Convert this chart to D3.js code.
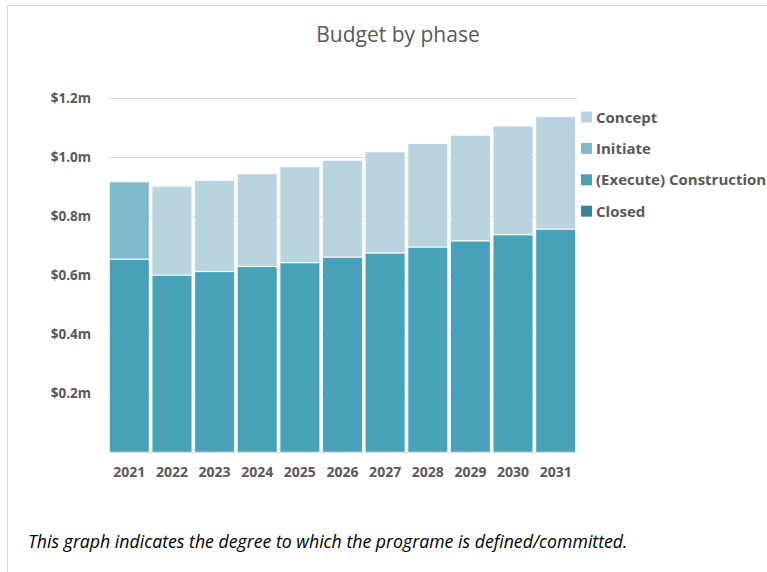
<!DOCTYPE html>
<html>
<head>
<meta charset="utf-8">
<script src="https://cdn.jsdelivr.net/npm/d3@7/dist/d3.min.js"></script>
<style>
  html, body { margin: 0; padding: 0; background: #fff; }
  svg { display: block; }
  text { font-family: "Open Sans", Lato, sans-serif; }
</style>
</head>
<body>
<svg id="chart" width="767" height="572"></svg>
<script>
const years = ["2021","2022","2023","2024","2025","2026","2027","2028","2029","2030","2031"];
const closed       = [0,0,0,0,0,0,0,0,0,0,0];
const construction = [0.655,0.601,0.613,0.630,0.643,0.662,0.676,0.696,0.717,0.738,0.757];
const initiate     = [0.262,0,0,0,0,0,0,0,0,0,0];
const concept      = [0,0.301,0.309,0.314,0.325,0.328,0.343,0.351,0.358,0.368,0.381];
const yTicks = [0.2,0.4,0.6,0.8,1.0,1.2];
const seriesNames = ["Concept","Initiate","(Execute) Construction","Closed"];
const seriesColors = {"Concept":"#b7d4df","Initiate":"#7fb9cd","(Execute) Construction":"#47a1b9","Closed":"#3a8597"};

const rows = years.map((y,i) => ({year:y, "Closed":closed[i], "(Execute) Construction":construction[i], "Initiate":initiate[i], "Concept":concept[i]}));
const stackKeys = ["Closed","(Execute) Construction","Initiate","Concept"];
const stacked = d3.stack().keys(stackKeys)(rows);

const svg = d3.select("#chart");
const FONT = "'Open Sans', Lato, sans-serif";
// frame
svg.append("path").attr("d","M7.5,572 L7.5,5.5 L767,5.5").attr("fill","none").attr("stroke","#d9d9d9").attr("stroke-width",1);

const x = d3.scaleBand().domain(years).range([108,577]).paddingInner(0.06).paddingOuter(0.03);
const y = d3.scaleLinear().domain([0,1.2]).range([452.3,98.3]);

// gridlines
svg.append("g").selectAll("line").data(yTicks).join("line")
  .attr("x1",108).attr("x2",577)
  .attr("y1",d=>Math.round(y(d))+0.5).attr("y2",d=>Math.round(y(d))+0.5)
  .attr("stroke","#d9d9d9").attr("stroke-width",1);

// bars
svg.append("g").selectAll("g").data(stacked).join("g")
  .attr("fill",d=>seriesColors[d.key])
  .selectAll("rect").data(d=>d).join("rect")
  .attr("x",d=>x(d.data.year))
  .attr("width",x.bandwidth())
  .attr("y",d=>y(d[1]))
  .attr("height",d=>Math.max(0,y(d[0])-y(d[1])))
  .attr("stroke",d=> (d[1]-d[0])>0 ? "#ffffff" : "none")
  .attr("stroke-width",1.2)
  .attr("stroke-opacity",0.8);

// baseline
svg.append("line").attr("x1",108).attr("x2",577).attr("y1",452.5).attr("y2",452.5).attr("stroke","#d9d9d9");

// y axis labels
const yAxis = d3.axisLeft(y).tickValues(yTicks).tickSize(0).tickPadding(0)
  .tickFormat(d=>"$"+d3.format(".1f")(d)+"m");
const ya = svg.append("g").attr("transform","translate(91,0)").call(yAxis);
ya.select(".domain").remove();
ya.selectAll("text").attr("font-family",FONT).attr("font-size",13.5).attr("font-weight","bold").attr("fill","#595959");

// x axis labels
const xAxis = d3.axisBottom(x).tickSize(0).tickPadding(0);
const xa = svg.append("g").attr("transform","translate(0,467)").call(xAxis);
xa.select(".domain").remove();
xa.selectAll("text").attr("font-family",FONT).attr("font-size",14).attr("font-weight","bold").attr("fill","#595959");

// title
svg.append("text").attr("x",398).attr("y",42).attr("text-anchor","middle")
  .attr("font-size",21).attr("fill","#595959").text("Budget by phase");

// legend
const lg = svg.append("g").selectAll("g").data(seriesNames).join("g")
  .attr("transform",(d,i)=>`translate(581,${117 + i*31.4})`);
lg.append("rect").attr("x",0).attr("y",-5.5).attr("width",11).attr("height",11).attr("fill",d=>seriesColors[d]);
lg.append("text").attr("x",15).attr("y",5.5).attr("font-size",15).attr("font-weight","bold").attr("fill","#595959").text(d=>d);

// footer
const ft = svg.append("text").attr("x",28).attr("y",548).attr("font-size",16).attr("font-style","italic").attr("fill","#000")
  .text("This graph indicates the degree to which the programe is defined/committed.");
const w = ft.node().getComputedTextLength();
ft.attr("font-size", 16 * 600 / w);
</script>
</body>
</html>
